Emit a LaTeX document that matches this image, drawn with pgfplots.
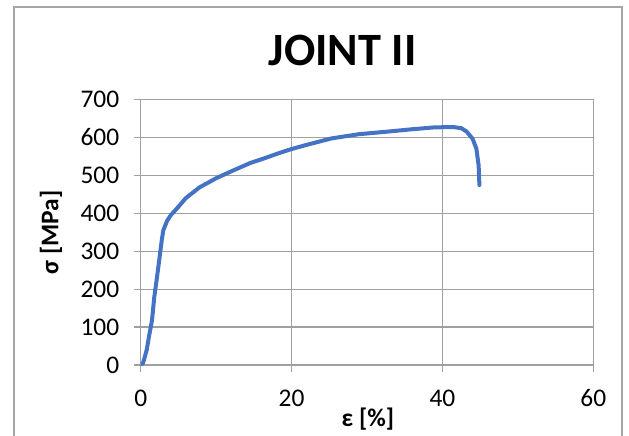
\documentclass[border=0pt]{standalone}
\usepackage{pgfplots}
\pgfplotsset{compat=1.18}
\usepackage{fontspec}
\setmainfont{Carlito}
\definecolor{lineblue}{HTML}{4472C4}
\definecolor{gridgray}{HTML}{A0A0A0}
\definecolor{bordergray}{HTML}{A6A6A6}
\begin{document}
\begin{tikzpicture}
\useasboundingbox (-140.7bp,-71bp) rectangle (488.3bp,365bp);
\draw[bordergray, line width=1.3bp] (-126.7bp,-90bp) rectangle (481.3bp,358bp);
\begin{axis}[
  at={(0,0)}, anchor=south west,
  scale only axis,
  width=452.6bp, height=265.7bp,
  xmin=0, xmax=60, ymin=0, ymax=700,
  xtick={0,20,40,60}, ytick={0,100,...,700},
  grid=major,
  grid style={gridgray, line width=1.1bp},
  axis line style={gridgray, line width=1.1bp},
  tick style={gridgray, line width=1.1bp},
  major tick length=7bp,
  tick align=outside,
  xtick pos=bottom, ytick pos=left,
  /pgf/number format/assume math mode=true,
  ticklabel style={font=\fontsize{25.5}{28}\selectfont},
  xticklabel style={yshift=-14bp},
  yticklabel style={xshift=-11bp},
  title={JOINT II},
  title style={font=\fontsize{46.5}{50}\selectfont\bfseries, anchor=base, at={(axis description cs:0.446,1.104)}},
  xlabel={ε [\%]},
  ylabel={σ [MPa]},
  xlabel style={font=\fontsize{25.5}{28}\selectfont\bfseries, anchor=base, at={(axis description cs:0.502,-0.233)}},
  ylabel style={font=\fontsize{25.5}{28}\selectfont\bfseries, anchor=center, at={(axis description cs:-0.198,0.5)}},
]
\addplot[lineblue, line width=4bp, line join=round, line cap=round] table {
x y
0 0
0.3 5
0.5 18
0.8 40
1.1 75
1.5 118
1.8 179
2.1 222
2.5 283
2.8 330
3.0 355
3.5 380
4.0 395
4.7 410
6.0 440
7.8 468
10.0 492
12.2 512
14.5 532
16.6 546
18.3 558
20.0 569
22.0 580
25.3 597
28.9 608
32.8 615
35.9 621
38.9 626
41.4 627
42.5 624
43.2 615
44.0 596
44.5 570
44.8 526
44.9 474
};
\end{axis}
\end{tikzpicture}
\end{document}
